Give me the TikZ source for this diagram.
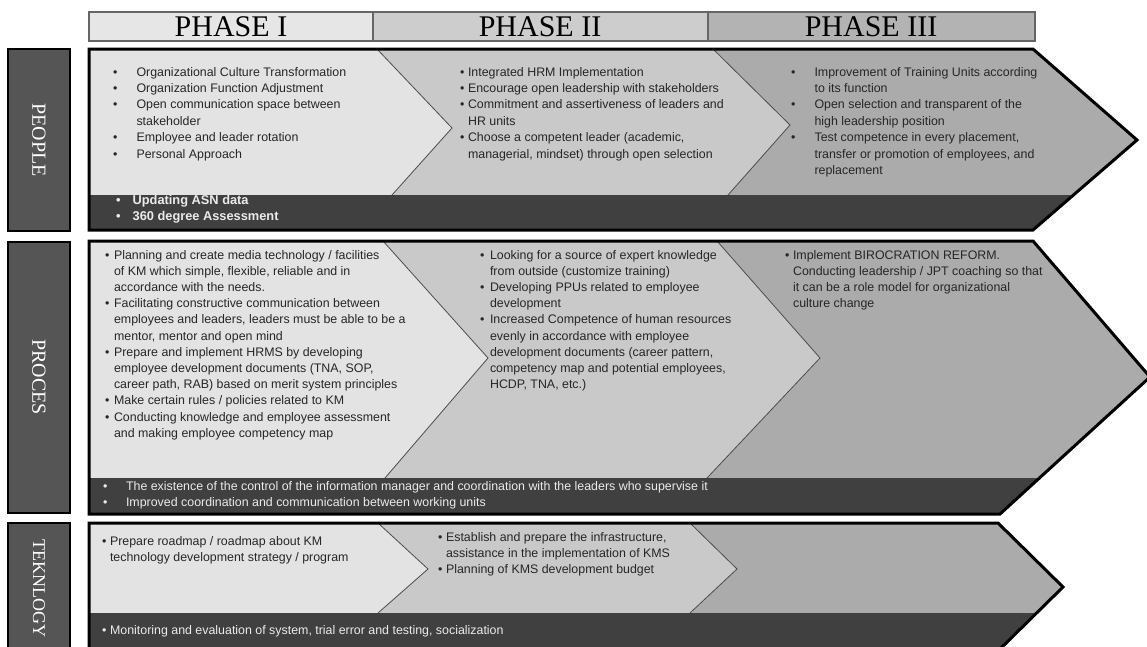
\documentclass[tikz,border=0pt]{standalone}
\usepackage{fontspec}
\setmainfont{Liberation Serif}
\newfontfamily\arialfont{Liberation Sans}
\usetikzlibrary{calc}

\definecolor{phaseone}{HTML}{E3E3E3}
\definecolor{phasetwo}{HTML}{C9C9C9}
\definecolor{phasethree}{HTML}{ABABAB}
\definecolor{darkbar}{HTML}{404040}
\definecolor{lblgray}{HTML}{555555}
\definecolor{hdrone}{HTML}{E6E6E6}
\definecolor{hdrtwo}{HTML}{CDCDCD}
\definecolor{hdrthree}{HTML}{B3B3B3}

\begin{document}
\begin{tikzpicture}[
    x=1pt, y=-1pt,
    hdr/.style={draw=black!60, line width=1.2pt},
    hdrtext/.style={font=\fontsize{30}{30}\selectfont, inner sep=0pt},
    rowbox/.style={draw=black, line width=2pt, fill=lblgray},
    rowtext/.style={rotate=-90, text=white, inner sep=0pt},
    band/.style={draw=black, line width=3pt, line join=miter},
    sepline/.style={draw=black!70, line width=0.8pt},
    items/.style={anchor=base west, inner sep=0pt, text=black!85,
        font=\arialfont\fontsize{12.4}{16.2}\selectfont},
    baritems/.style={items, text=white!92!black}
]
\useasboundingbox (0,0) rectangle (1147,646);
\clip (0,0) rectangle (1147,646);

% Phase header
\draw[hdr, fill=hdrone] (89,12) rectangle (373,41);
\draw[hdr, fill=hdrtwo] (373,12) rectangle (708,41);
\draw[hdr, fill=hdrthree] (708,12) rectangle (1035,41);
\node[hdrtext] (hone) at (231,27) {PHASE I};
\node[hdrtext] (htwo) at (540,27) {PHASE II};
\node[hdrtext] (hthree) at (871,27) {PHASE III};

% Row labels
\draw[rowbox] (8,49) rectangle (70,231);
\draw[rowbox] (8,242) rectangle (70,513);
\draw[rowbox] (8,523) rectangle (70,653);
\node[rowtext, font=\fontsize{20}{20}\selectfont] (lpeople) at (39,140) {PEOPLE};
\node[rowtext, font=\fontsize{20}{20}\selectfont] (lproces) at (39,377) {PROCES};
\node[rowtext, font=\fontsize{18}{18}\selectfont] (ltek) at (39,588) {TEKNLOGY};

% People band
\begin{scope}
\clip (89,49) -- (1033,49) -- (1137,140) -- (1033,230) -- (89,230) -- cycle;
\fill[phasethree] (89,49) rectangle (1147,230);
\fill[phasetwo] (89,49) -- (713,49) -- (790,125) -- (728,195) -- (728,230) -- (89,230) -- cycle;
\fill[phaseone] (89,49) -- (377,49) -- (452,128) -- (392,195) -- (392,230) -- (89,230) -- cycle;
\draw[sepline] (377,49) -- (452,128) -- (392,195);
\draw[sepline] (713,49) -- (790,125) -- (728,195);
\fill[darkbar] (89,195) rectangle (1147,230);
\end{scope}
\draw[band] (89,49) -- (1033,49) -- (1137,140) -- (1033,230) -- (89,230) -- cycle;

% Proces band
\begin{scope}
\clip (89,241) -- (1033,241) -- (1150,377) -- (1000,514) -- (89,514) -- cycle;
\fill[phasethree] (89,241) rectangle (1147,514);
\fill[phasetwo] (89,241) -- (717,241) -- (820,358) -- (707,478) -- (707,514) -- (89,514) -- cycle;
\fill[phaseone] (89,241) -- (383,241) -- (488,358) -- (385,478) -- (385,514) -- (89,514) -- cycle;
\draw[sepline] (383,241) -- (488,358) -- (385,478);
\draw[sepline] (717,241) -- (820,358) -- (707,478);
\fill[darkbar] (89,478) rectangle (1147,514);
\end{scope}
\draw[band] (89,241) -- (1033,241) -- (1150,377) -- (1000,514) -- (89,514) -- cycle;

% Teknlogy band
\begin{scope}
\clip (89,523) -- (998,523) -- (1063,587) -- (998,651) -- (89,651) -- cycle;
\fill[phasethree] (89,523) rectangle (1147,651);
\fill[phasetwo] (89,523) -- (690,523) -- (737,569) -- (690,613) -- (690,651) -- (89,651) -- cycle;
\fill[phaseone] (89,523) -- (378,523) -- (428,569) -- (378,613) -- (378,651) -- (89,651) -- cycle;
\draw[sepline] (378,523) -- (428,569) -- (378,613);
\draw[sepline] (690,523) -- (737,569) -- (690,613);
\fill[darkbar] (89,613) rectangle (1147,651);
\end{scope}
\draw[band] (89,523) -- (998,523) -- (1063,587) -- (998,651) -- (89,651) -- cycle;

% People texts
\node[items, font=\arialfont\fontsize{12.4}{16.4}\selectfont] (pone) at (113,76)
    {\begin{tabular}[t]{@{}l@{\hspace{19pt}}l@{}}
\textbullet & Organizational Culture Transformation\\
\textbullet & Organization Function Adjustment\\
\textbullet & Open communication space between\\
 & stakeholder\\
\textbullet & Employee and leader rotation\\
\textbullet & Personal  Approach
\end{tabular}};
\node[items, font=\arialfont\fontsize{12.4}{16.4}\selectfont] (ptwo) at (460,76)
    {\begin{tabular}[t]{@{}l@{\hspace{3.5pt}}l@{}}
\textbullet & Integrated HRM  Implementation\\
\textbullet & Encourage open leadership with stakeholders\\
\textbullet & Commitment and assertiveness of leaders and\\
 & HR units\\
\textbullet & Choose a competent leader (academic,\\
 & managerial, mindset) through open selection
\end{tabular}};
\node[items, font=\arialfont\fontsize{12.4}{16.4}\selectfont] (pthree) at (791,76)
    {\begin{tabular}[t]{@{}l@{\hspace{19pt}}l@{}}
\textbullet & Improvement of Training Units according\\
 & to its function\\
\textbullet & Open selection and  transparent  of the\\
 & high leadership position\\
\textbullet & Test competence in every placement,\\
 & transfer or promotion of employees, and\\
 & replacement
\end{tabular}};
\node[baritems, font=\arialfont\bfseries\fontsize{12.8}{16.8}\selectfont] (pbar) at (116,204)
    {\begin{tabular}[t]{@{}l@{\hspace{12pt}}l@{}}
\textbullet & Updating  ASN data\\
\textbullet & 360 degree Assessment
\end{tabular}};

% Proces texts
\node[items] (rone) at (105,259) {\begin{tabular}[t]{@{}l@{\hspace{4.5pt}}l@{}}
\textbullet & Planning and create media technology / facilities\\
 & of  KM  which simple, flexible,  reliable and  in\\
 & accordance with the needs.\\
\textbullet & Facilitating constructive communication between\\
 & employees and leaders, leaders must be able to be a\\
 & mentor, mentor and open mind\\
\textbullet & Prepare and implement  HRMS by developing\\
 & employee development documents (TNA, SOP,\\
 & career path, RAB) based on merit system principles\\
\textbullet & Make certain rules / policies  related to KM\\
\textbullet & Conducting knowledge and employee assessment\\
 & and making employee competency map
\end{tabular}};
\node[items] (rtwo) at (480,259) {\begin{tabular}[t]{@{}l@{\hspace{5.5pt}}l@{}}
\textbullet & Looking for a source of expert knowledge\\
 & from outside (customize training)\\
\textbullet & Developing PPUs related to employee\\
 & development\\
\textbullet & Increased Competence of human resources\\
 & evenly in accordance with employee\\
 & development documents (career pattern,\\
 & competency map and potential employees,\\
 & HCDP, TNA, etc.)
\end{tabular}};
\node[items] (rthree) at (785,259) {\begin{tabular}[t]{@{}l@{\hspace{3.5pt}}l@{}}
\textbullet & Implement BIROCRATION REFORM.\\
 & Conducting leadership / JPT coaching so that\\
 & it can be a role model for organizational\\
 & culture change
\end{tabular}};
\node[baritems] (rbar) at (103,490) {\begin{tabular}[t]{@{}l@{\hspace{18.5pt}}l@{}}
\textbullet & The existence of the control of the information manager and coordination with the leaders who supervise it\\
\textbullet & Improved coordination and communication between working units
\end{tabular}};

% Teknlogy texts
\node[items] (tone) at (102,545) {\begin{tabular}[t]{@{}l@{\hspace{3.5pt}}l@{}}
\textbullet & Prepare roadmap / roadmap about KM\\
 & technology development strategy / program
\end{tabular}};
\node[items] (ttwo) at (438,541) {\begin{tabular}[t]{@{}l@{\hspace{3.5pt}}l@{}}
\textbullet & Establish and prepare the infrastructure,\\
 & assistance in the implementation of KMS\\
\textbullet & Planning of KMS development budget
\end{tabular}};
\node[baritems] (tbar) at (102,634) {\begin{tabular}[t]{@{}l@{\hspace{3.5pt}}l@{}}
\textbullet & Monitoring and evaluation of system,  trial error and testing, socialization
\end{tabular}};

\end{tikzpicture}
\end{document}
